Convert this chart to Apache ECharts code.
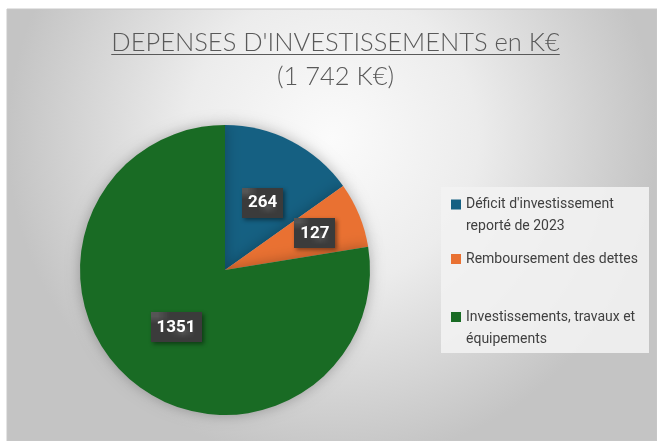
<!DOCTYPE html>
<html>
<head>
<meta charset="utf-8">
<script src="https://cdn.jsdelivr.net/npm/echarts@6/dist/echarts.min.js"></script>
<style>
html,body{margin:0;padding:0;background:#ffffff;}
#chart{width:657px;height:441px;}
</style>
</head>
<body>
<div id="chart"></div>
<script>
// ---- data ----
const categories = [
  "Déficit d'investissement\nreporté de 2023",
  "Remboursement des dettes",
  "Investissements, travaux et\néquipements"
];
const values = [264, 127, 1351];
const colors = ["#156082", "#E97132", "#196B24"];
const titleText = "DEPENSES D'INVESTISSEMENTS en K€";
const subtitleText = "(1 742 K€)";

// ---- helpers ----
const titleFamily = "Lato, 'Open Sans', sans-serif";
const titleSize = 25.5;
function textWidth(text) {
  const t = new echarts.graphic.Text({
    style: {text: text, fontSize: titleSize, fontWeight: 300, fontFamily: titleFamily}
  });
  return t.getBoundingRect().width;
}
function dotPattern() {
  const c = document.createElement('canvas');
  c.width = 4; c.height = 4;
  const g = c.getContext('2d');
  g.fillStyle = '#3b3b3b';
  g.fillRect(0, 0, 4, 4);
  g.fillStyle = '#555555';
  g.fillRect(0, 0, 1, 1);
  g.fillRect(2, 2, 1, 1);
  return c;
}

const chart = echarts.init(document.getElementById('chart'), null, {renderer: 'canvas'});
const cx = 335.5;
const titleW = textWidth(titleText);
const subW = textWidth(subtitleText);

function legendFor(name, top, twoLines) {
  return {
    data: [name],
    left: 451, top: top, orient: 'vertical',
    itemWidth: 10, itemHeight: 10, itemGap: 0, padding: 0,
    icon: 'rect', selectedMode: false,
    formatter: twoLines ? function (n) { return '{gap| }\n' + n; } : '{name}',
    textStyle: {
      color: '#404040', fontSize: 14, fontFamily: 'Roboto, sans-serif', lineHeight: 22,
      rich: {gap: {fontSize: 14, lineHeight: 22}}
    }
  };
}

const option = {
  animation: false,
  graphic: [
    {
      type: 'rect', z: -10, silent: true,
      shape: {x: 7, y: 9, width: 650, height: 432},
      style: {
        fill: new echarts.graphic.RadialGradient(0.5, 0.3, 0.75, [
          {offset: 0, color: '#fbfbfb'},
          {offset: 0.45, color: '#ececec'},
          {offset: 1, color: '#c4c4c4'}
        ]),
        stroke: '#c8c8c8', lineWidth: 1
      }
    },
    {
      type: 'rect', z: -5, silent: true,
      shape: {x: 441, y: 187, width: 208, height: 166},
      style: {fill: 'rgba(242,242,242,0.9)'}
    },
    {
      type: 'line', silent: true,
      shape: {x1: cx - titleW / 2, y1: 54.5, x2: cx + titleW / 2, y2: 54.5},
      style: {stroke: '#595959', lineWidth: 1}
    }
  ],
  title: [
    {
      text: titleText, left: cx - titleW / 2, top: 30, padding: 0,
      textStyle: {color: '#595959', fontSize: titleSize, fontWeight: 300, fontFamily: titleFamily}
    },
    {
      text: subtitleText, left: cx - subW / 2, top: 64, padding: 0,
      textStyle: {color: '#595959', fontSize: titleSize, fontWeight: 300, fontFamily: titleFamily}
    }
  ],
  legend: [
    legendFor(categories[0], 171.5, true),
    legendFor(categories[1], 248, false),
    legendFor(categories[2], 284, true)
  ],
  series: [{
    type: 'pie',
    center: [225, 270],
    radius: 145,
    startAngle: 90,
    clockwise: true,
    avoidLabelOverlap: false,
    data: categories.map((n, i) => ({name: n, value: values[i], itemStyle: {color: colors[i]}})),
    itemStyle: {shadowBlur: 14, shadowColor: 'rgba(0,0,0,0.28)'},
    label: {
      show: true, position: 'inside',
      formatter: '{c}',
      color: '#ffffff', fontSize: 17, fontWeight: 'bold',
      fontFamily: "Roboto, sans-serif",
      backgroundColor: {image: dotPattern(), repeat: 'repeat'},
      padding: [7, 6, 6, 6],
      shadowBlur: 4, shadowColor: 'rgba(0,0,0,0.45)', shadowOffsetX: 2, shadowOffsetY: 2
    },
    labelLine: {show: false},
    labelLayout: function (p) {
      if (p.dataIndex === 1) return {dx: 20, dy: -8};
      if (p.dataIndex === 0) return {dx: 3, dy: 0};
      return {};
    },
    emphasis: {disabled: true}
  }]
};
chart.setOption(option);
</script>
</body>
</html>
